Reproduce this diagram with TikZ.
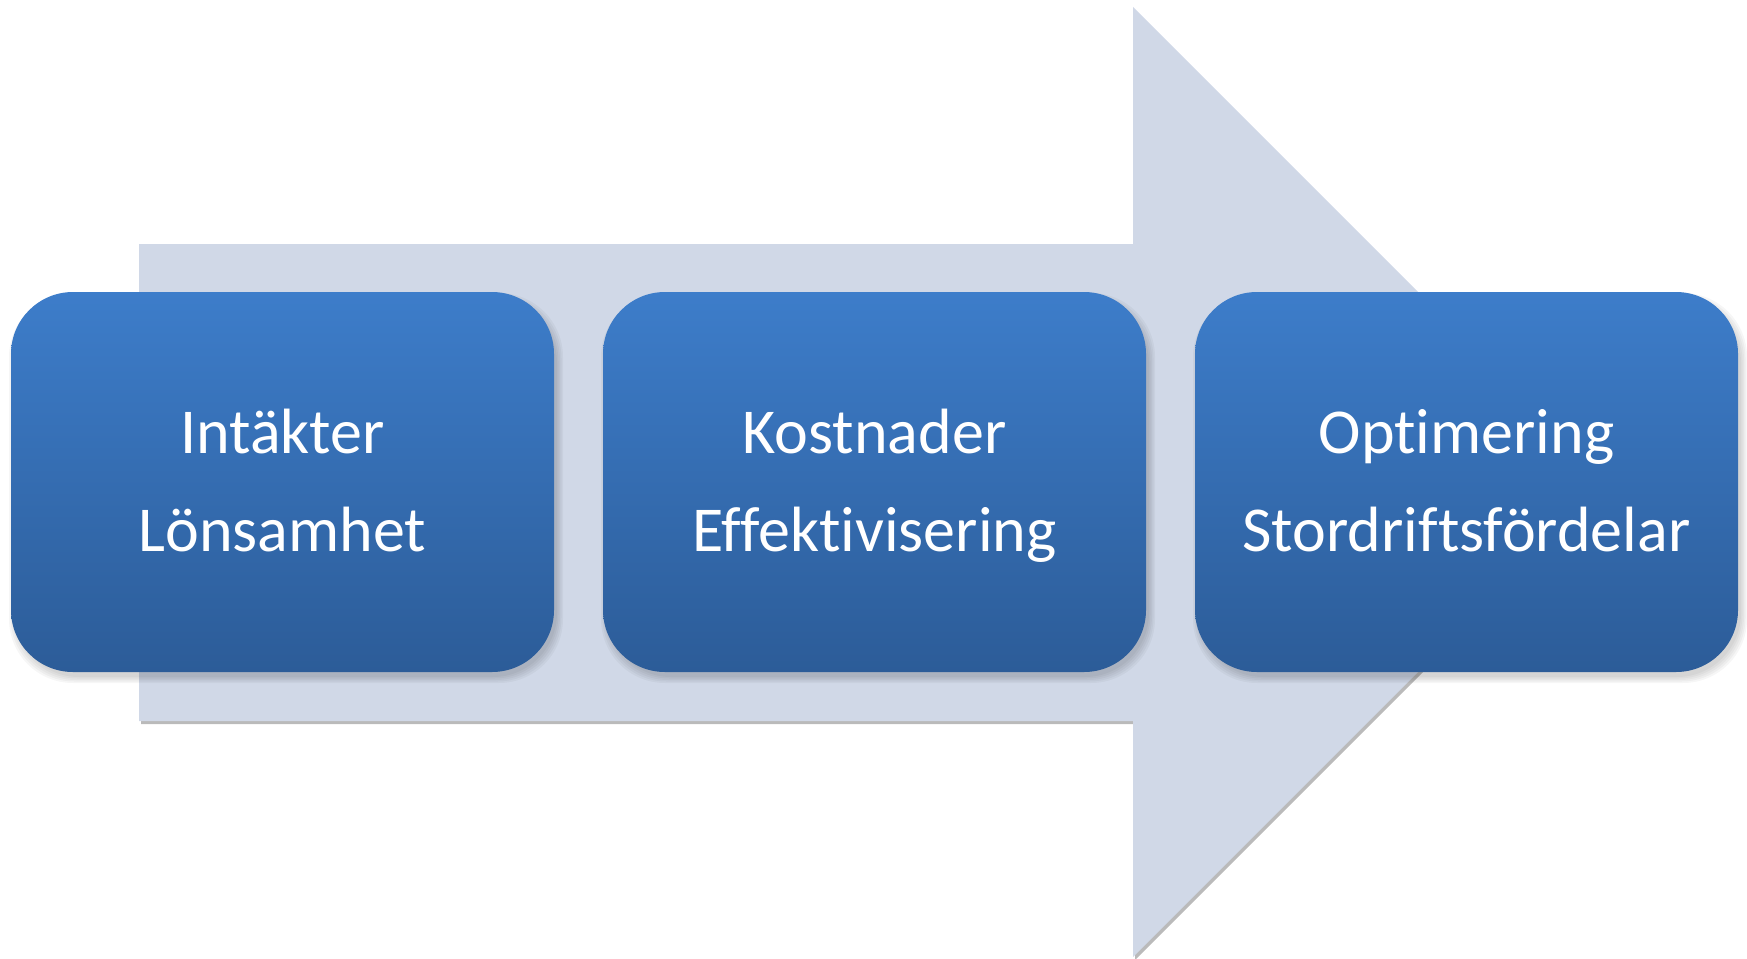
\documentclass[tikz,border=0pt]{standalone}
\usepackage{fontspec}
\setmainfont[Ligatures=NoCommon]{Carlito}
\definecolor{arrowfill}{RGB}{208,216,231}
\definecolor{boxtop}{RGB}{61,125,202}
\definecolor{boxbot}{RGB}{44,92,152}
\newcommand{\stagetext}[2]{\vphantom{Äg}#1\\\vphantom{Äg}#2}
\begin{document}
\begin{tikzpicture}[x=1pt,y=-1pt,
  stage/.style={rounded corners=62pt, minimum width=543pt, minimum height=380pt,
    top color=boxtop, bottom color=boxbot, draw=none, text=white,
    font=\fontsize{64}{98}\selectfont, align=center, inner sep=0pt},
  softshadow/.style={fill=black, opacity=0.035, rounded corners=64pt}]
\useasboundingbox (0,0) rectangle (1747,958);
% big background arrow with its shadow
\fill[black!60, opacity=0.45] (141,247) -- (1135,247) -- (1135,10) -- (1610,485)
  -- (1135,960) -- (1135,724) -- (141,724) -- cycle;
\fill[arrowfill] (139,244) -- (1133,244) -- (1133,7) -- (1608,482)
  -- (1133,957) -- (1133,721) -- (139,721) -- cycle;
% soft shadows under the stages
\foreach \cx in {282.5,874.5,1466.5}{
  \foreach \s in {0,1.5,...,6}{
    \fill[softshadow] (\cx-271.5-\s+4,292-\s+7) rectangle (\cx+271.5+\s+3,672+\s+5);
  }
}
% stages
\node[stage] (s1) at (282.5,482) {\stagetext{Intäkter}{Lönsamhet}};
\node[stage] (s2) at (874.5,482) {\stagetext{Kostnader}{Effektivisering}};
\node[stage] (s3) at (1466.5,482) {\stagetext{Optimering}{Stordriftsfördelar}};
\end{tikzpicture}
\end{document}
